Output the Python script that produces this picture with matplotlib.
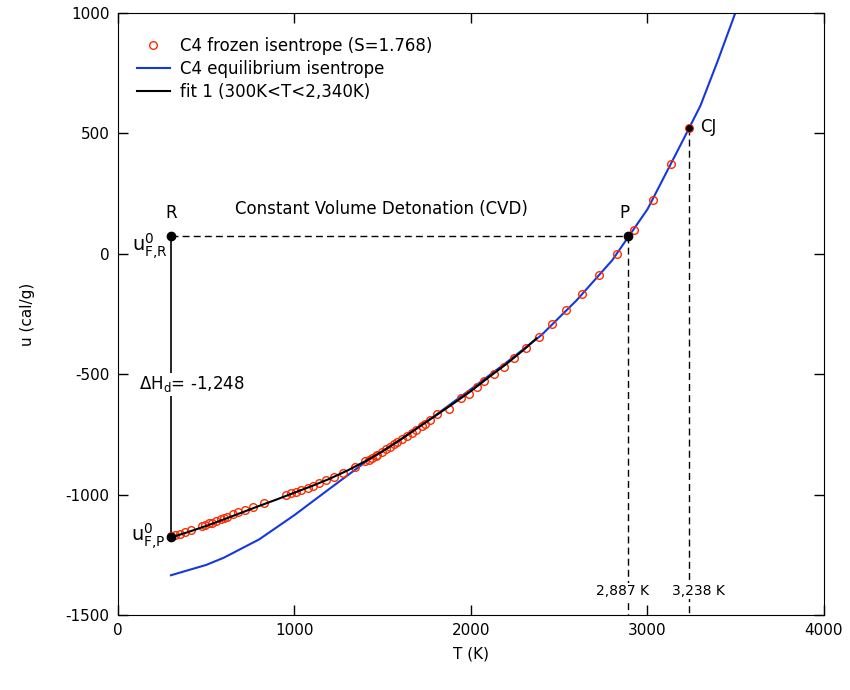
import matplotlib
matplotlib.use('Agg')
import matplotlib.pyplot as plt

plt.rcParams['font.family'] = ['DejaVu Sans']
plt.rcParams['axes.unicode_minus'] = False

# C4 frozen isentrope (S=1.768)
frozenT = [300, 324, 353, 381, 411, 474, 495, 514, 531, 553, 581, 600, 617, 651, 680,
           720, 766, 829, 953, 981, 1010, 1038, 1075, 1103, 1137, 1181, 1223, 1277, 1343,
           1400, 1420, 1438, 1460, 1470, 1495, 1520, 1540, 1561, 1580, 1609, 1640, 1666,
           1690, 1723, 1740, 1770, 1808, 1874, 1941, 1988, 2036, 2073, 2130, 2187, 2244,
           2311, 2386, 2459, 2538, 2628, 2728, 2827, 2924, 3030, 3135, 3238]
frozenU = [-1173, -1168, -1163, -1157, -1148, -1132, -1125, -1120, -1116, -1111, -1103,
           -1096, -1092, -1082, -1072, -1063, -1053, -1036, -1003, -995, -989, -982, -971,
           -963, -953, -941, -928, -909, -884, -862, -856, -846, -838, -834, -823, -812,
           -803, -791, -783, -770, -755, -743, -731, -715, -706, -689, -667, -643, -600,
           -581, -555, -528, -498, -470, -434, -392, -345, -290, -233, -168, -89, 1, 99,
           225, 373, 522]

# C4 equilibrium isentrope
equilT = [300, 500, 600, 800, 1000, 1200, 1400, 1600, 1800, 2000, 2200, 2400, 2600,
          2800, 3000, 3200, 3300, 3400, 3520]
equilU = [-1335, -1292, -1262, -1186, -1085, -975, -866, -772, -670, -562, -452, -337,
          -192, -27, 185, 470, 615, 805, 1045]

# fit 1 (300K<T<2,340K)
fitT = [300, 400, 500, 600, 700, 800, 900, 1000, 1100, 1200, 1300, 1400, 1500, 1600,
        1700, 1800, 1900, 2000, 2100, 2200, 2300, 2370]
fitU = [-1178, -1155, -1130, -1103, -1075, -1047, -1020, -992, -964, -934, -900, -862,
        -820, -772, -722, -672, -622, -570, -513, -458, -398, -352]

# marked states
tR, uR = 300, 73
tFP, uFP = 300, -1175
tP, uP = 2887, 73
tCJ, uCJ = 3238, 522

fig = plt.figure(figsize=(8.5, 6.9), dpi=100)
ax = fig.add_axes([0.1388, 0.1087, 0.8306, 0.8725])

red = '#ff2a00'
blue = '#1438e0'

ax.plot(frozenT, frozenU, 'o', mfc='none', mec=red, mew=1.0, ms=5.5,
        label='C4 frozen isentrope (S=1.768)', zorder=3)
ax.plot(equilT, equilU, '-', color=blue, lw=1.5, label='C4 equilibrium isentrope', zorder=2)
ax.plot(fitT, fitU, '-', color='black', lw=1.5, label='fit 1 (300K<T<2,340K)', zorder=4)

# construction lines
dash = (0, (5, 3))
ax.plot([tR, tP], [uR, uP], color='black', lw=1, linestyle=dash, zorder=1)
ax.plot([tP, tP], [uP, -1500], color='black', lw=1, linestyle=dash, zorder=1)
ax.plot([tCJ, tCJ], [uCJ, -1500], color='black', lw=1, linestyle=dash, zorder=1)
ax.plot([tR, tFP], [uR, uFP], color='black', lw=1.2, zorder=1)

ax.plot([tR, tFP, tP], [uR, uFP, uP], 'o', color='black', ms=6, zorder=5)
ax.plot([tCJ], [uCJ], 'o', color='black', ms=4, zorder=5)

ax.text(tR, 130, 'R', ha='center', va='bottom', fontsize=12)
ax.text(tP - 20, 130, 'P', ha='center', va='bottom', fontsize=12)
ax.text(3300, uCJ + 5, 'CJ', ha='left', va='center', fontsize=12)
ax.text(1490, 150, 'Constant Volume Detonation (CVD)', ha='center', va='bottom', fontsize=12)
ax.text(280, 5, r'$\mathregular{u^{0}_{F{,}R}}$', ha='right', va='baseline', fontsize=14)
ax.text(270, -1200, r'$\mathregular{u^{0}_{F{,}P}}$', ha='right', va='baseline', fontsize=14)
ax.text(120, -542, r'$\mathregular{\Delta H_d}$= -1,248', ha='left', va='center', fontsize=12,
        bbox=dict(facecolor='white', edgecolor='none', pad=1), zorder=6)
ax.text(tP - 30, -1400, '2,887 K', ha='center', va='center', fontsize=10,
        bbox=dict(facecolor='white', edgecolor='none', pad=1), zorder=6)
ax.text(tCJ + 50, -1400, '3,238 K', ha='center', va='center', fontsize=10,
        bbox=dict(facecolor='white', edgecolor='none', pad=1), zorder=6)

ax.set_xlim(0, 4000)
ax.set_ylim(-1500, 1000)
ax.set_xticks([0, 1000, 2000, 3000, 4000])
ax.set_yticks([-1500, -1000, -500, 0, 500, 1000])
ax.tick_params(direction='in', length=7, width=1, labelsize=11, top=True, right=True, pad=6)
ax.set_xlabel('T (K)', fontsize=11, labelpad=6)
ax.set_ylabel('u (cal/g)', fontsize=11, labelpad=22)

ax.legend(loc='upper left', bbox_to_anchor=(0.01, 0.98), frameon=False, fontsize=12,
          handlelength=2.0, handletextpad=0.6, labelspacing=0.3, borderaxespad=0.3)

fig.savefig('out.png', dpi=100)
